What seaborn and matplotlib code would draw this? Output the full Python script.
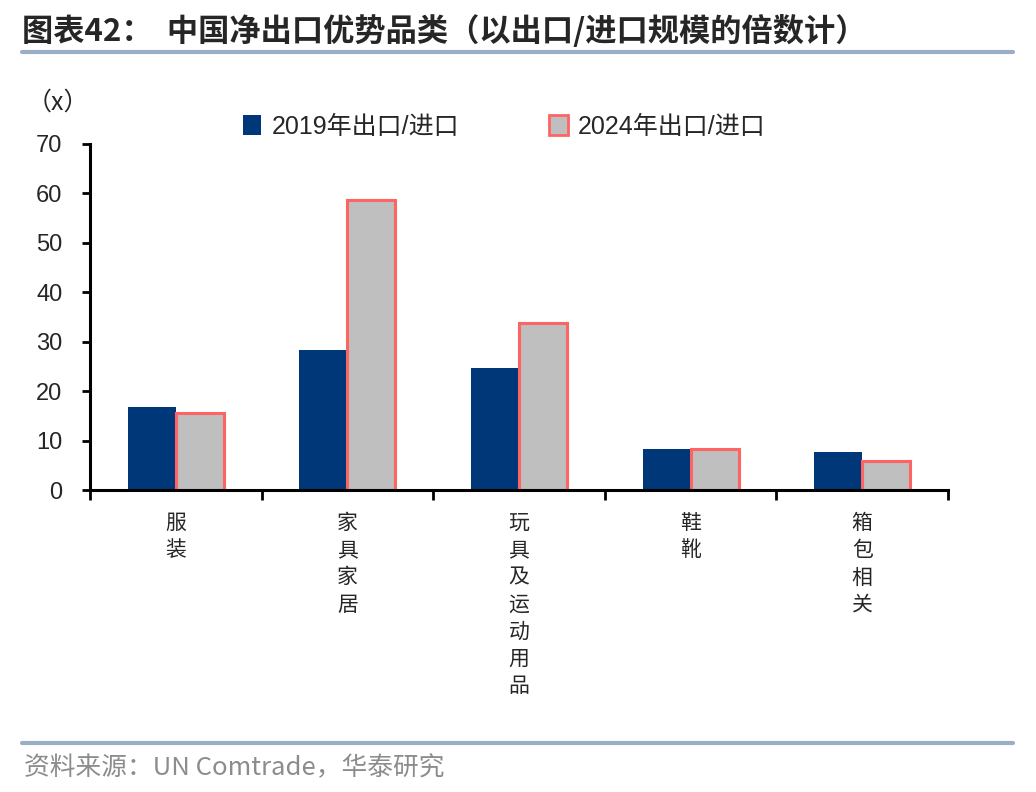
import matplotlib
matplotlib.use("Agg")
import matplotlib.pyplot as plt
from matplotlib.patches import Patch
import seaborn as sns
import pandas as pd

categories = ["服装", "家具家居", "玩具及运动用品", "鞋靴", "箱包相关"]
ratio_2019 = [16.8, 28.3, 24.7, 8.3, 7.7]
ratio_2024 = [15.6, 58.7, 33.8, 8.3, 5.9]
series_names = ["2019年出口/进口", "2024年出口/进口"]
y_ticks = [0, 10, 20, 30, 40, 50, 60, 70]

df = pd.DataFrame({
    "品类": categories * 2,
    "倍数": ratio_2019 + ratio_2024,
    "系列": [series_names[0]] * 5 + [series_names[1]] * 5,
})

sns.set_style("white")
plt.rcParams["font.family"] = ["Liberation Sans", "Noto Sans CJK SC", "DejaVu Sans"]

fig = plt.figure(figsize=(10.36, 7.92), dpi=100)
ax = fig.add_axes([0.0869, 0.3813, 0.8282, 0.4369])

sns.barplot(data=df, x="品类", y="倍数", hue="系列", hue_order=series_names,
            palette=["#003778", "#BFBFBF"], saturation=1, width=0.56, gap=0,
            ax=ax, errorbar=None, legend=False)

for bar in ax.containers[0]:
    bar.set_edgecolor("none")
for bar in ax.containers[1]:
    bar.set_edgecolor("#FF6464")
    bar.set_linewidth(2.2)

ax.set_xlim(-0.5, 4.5)
ax.set_ylim(0, 70)
ax.set_yticks(y_ticks)
ax.set_yticklabels([str(v) for v in y_ticks], fontsize=17)
ax.set_xticks(range(len(categories)))
ax.set_xticklabels(["\n".join(c) for c in categories], fontsize=15,
                   family=["Noto Sans CJK SC"], linespacing=1.3, va="top")
ax.set_xticks([i - 0.5 for i in range(len(categories) + 1)], minor=True)
ax.tick_params(axis="x", which="major", bottom=True, length=0, pad=16)
ax.tick_params(axis="x", which="minor", bottom=True, length=7, width=2,
               direction="out", color="black")
ax.tick_params(axis="y", left=True, length=6, width=2, direction="out",
               color="black", pad=14)
ax.set_xlabel("")
ax.set_ylabel("")
for s in ["top", "right"]:
    ax.spines[s].set_visible(False)
for s in ["left", "bottom"]:
    ax.spines[s].set_color("black")
    ax.spines[s].set_linewidth(2.2)

# legend
handles = [Patch(facecolor="#003778", edgecolor="none"),
           Patch(facecolor="#BFBFBF", edgecolor="#FF6464", linewidth=2)]
fig.legend(handles, series_names, loc="center left", bbox_to_anchor=(0.2125, 0.84),
           ncol=2, frameon=False, handlelength=0.75, handleheight=0.9,
           handletextpad=0.4, columnspacing=3.6,
           prop={"family": ["Liberation Sans", "Noto Sans CJK SC"], "size": 18})

fig.text(0.026, 0.871, "（x）", fontsize=18, family=["Noto Sans CJK SC"], va="center")

# title and frame lines
fig.text(0.021, 0.960, "图表42：  中国净出口优势品类（以出口/进口规模的倍数计）",
         fontsize=22.5, fontweight="bold", family=["Noto Sans CJK SC"], va="center")
fig.add_artist(plt.Line2D([0.021, 0.978], [0.934, 0.934], color="#98AFC7", lw=3))
fig.add_artist(plt.Line2D([0.021, 0.978], [0.062, 0.062], color="#98AFC7", lw=3))
fig.text(0.023, 0.030, "资料来源：UN Comtrade，华泰研究", fontsize=18.5,
         color="#8C8C8C", family=["Noto Sans CJK SC"], va="center")

fig.savefig("out.png", dpi=100)
